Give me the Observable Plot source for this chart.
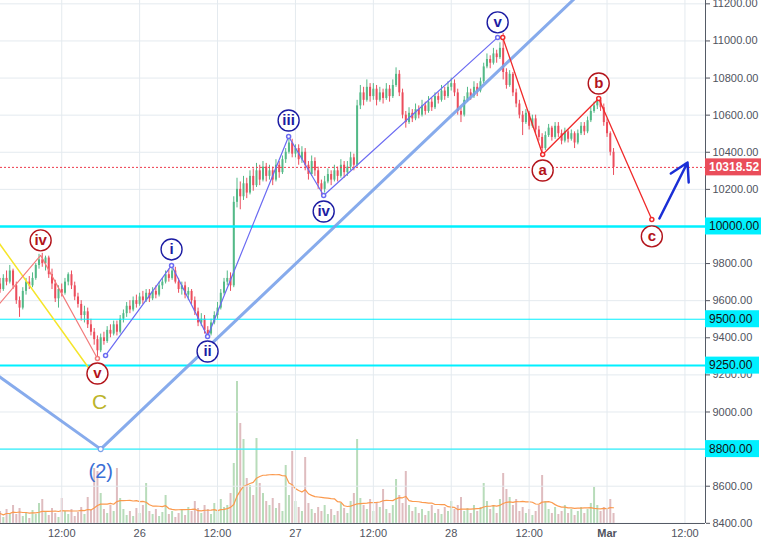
<!DOCTYPE html>
<html><head><meta charset="utf-8">
<script src="https://cdn.jsdelivr.net/npm/d3@7"></script>
<script src="https://cdn.jsdelivr.net/npm/@observablehq/plot@0.6"></script>
<style>
html,body{margin:0;padding:0;background:#fff;}
#chart{position:relative;width:761px;height:542px;overflow:hidden;font-family:"Liberation Sans",Arial,sans-serif;}
#chart svg{position:absolute;left:0;top:0;}
</style></head><body><div id="chart"></div>
<script>
// 30-minute BTC candles [open, high, low, close], first candle 2018-02-25 02:00 UTC
const ohlc = [
[9650,9710,9630,9690],[9690,9720,9640,9660],[9660,9740,9650,9720],[9720,9760,9680,9700],[9700,9790,9690,9760],
[9760,9770,9660,9680],[9680,9700,9580,9600],[9600,9620,9510,9560],[9560,9670,9550,9650],[9650,9720,9630,9700],
[9700,9730,9660,9680],[9680,9750,9670,9720],[9720,9800,9710,9790],[9790,9850,9770,9820],[9820,9855,9780,9800],
[9800,9840,9760,9830],[9830,9840,9720,9740],[9740,9770,9660,9690],[9690,9710,9590,9610],[9610,9680,9560,9660],
[9660,9690,9620,9640],[9640,9720,9630,9700],[9700,9750,9680,9740],[9740,9760,9660,9680],[9680,9700,9600,9620],
[9620,9640,9560,9580],[9580,9600,9490,9520],[9520,9570,9480,9540],[9540,9560,9450,9470],[9470,9500,9410,9430],
[9430,9450,9360,9390],[9390,9410,9295,9330],[9330,9420,9320,9400],[9400,9430,9360,9380],[9380,9460,9370,9440],
[9440,9470,9400,9420],[9420,9490,9410,9470],[9470,9490,9410,9430],[9430,9520,9420,9500],[9500,9550,9480,9530],
[9530,9590,9510,9570],[9570,9600,9530,9550],[9550,9620,9540,9600],[9600,9630,9560,9580],[9580,9640,9570,9620],
[9620,9650,9580,9600],[9600,9660,9590,9640],[9640,9660,9590,9610],[9610,9670,9600,9650],[9650,9680,9610,9630],
[9630,9700,9620,9680],[9680,9720,9660,9700],[9700,9760,9690,9740],[9740,9770,9700,9720],[9720,9795,9710,9760],
[9760,9780,9690,9700],[9700,9720,9640,9660],[9660,9700,9630,9680],[9680,9700,9610,9630],[9630,9670,9600,9650],
[9650,9660,9580,9600],[9600,9620,9520,9540],[9540,9560,9460,9480],[9480,9530,9460,9500],[9500,9520,9420,9440],
[9440,9460,9400,9420],[9420,9500,9410,9480],[9480,9540,9470,9520],[9520,9590,9500,9560],[9560,9660,9550,9640],
[9640,9720,9630,9700],[9700,9760,9680,9720],[9720,9750,9650,9680],[9680,10160,9670,10130],[10130,10260,10100,10200],
[10200,10240,10090,10160],[10160,10270,10140,10230],[10230,10260,10150,10180],[10180,10300,10170,10270],[10270,10310,10190,10220],
[10220,10340,10210,10300],[10300,10330,10220,10250],[10250,10350,10240,10320],[10320,10340,10240,10270],[10270,10330,10250,10300],
[10300,10320,10220,10250],[10250,10360,10240,10330],[10330,10350,10260,10290],[10290,10380,10280,10360],[10360,10420,10340,10400],
[10400,10485,10390,10450],[10450,10470,10370,10390],[10390,10440,10370,10420],[10420,10440,10330,10360],[10360,10430,10340,10400],
[10400,10420,10300,10330],[10330,10350,10250,10280],[10280,10380,10270,10350],[10350,10370,10270,10300],[10300,10320,10200,10230],
[10230,10250,10165,10200],[10200,10270,10180,10240],[10240,10310,10230,10280],[10280,10300,10220,10250],[10250,10330,10240,10300],
[10300,10320,10240,10270],[10270,10360,10260,10330],[10330,10350,10260,10290],[10290,10350,10270,10320],[10320,10400,10300,10370],
[10370,10390,10300,10330],[10330,10680,10320,10650],[10650,10760,10630,10720],[10720,10750,10650,10680],[10680,10790,10670,10750],
[10750,10770,10670,10700],[10700,10770,10680,10740],[10740,10760,10650,10680],[10680,10750,10670,10720],[10720,10740,10660,10690],
[10690,10770,10680,10740],[10740,10760,10670,10700],[10700,10790,10690,10760],[10760,10855,10750,10820],[10820,10840,10700,10720],
[10720,10740,10580,10600],[10600,10620,10530,10560],[10560,10640,10550,10610],[10610,10630,10560,10580],[10580,10660,10570,10630],
[10630,10650,10580,10600],[10600,10680,10590,10650],[10650,10670,10600,10620],[10620,10700,10610,10670],[10670,10690,10620,10640],
[10640,10720,10630,10700],[10700,10720,10660,10680],[10680,10760,10670,10730],[10730,10750,10680,10700],[10700,10780,10690,10750],
[10750,10800,10730,10770],[10770,10790,10700,10720],[10720,10740,10600,10620],[10620,10640,10560,10600],[10600,10700,10590,10680],
[10680,10750,10670,10720],[10720,10740,10680,10700],[10700,10780,10690,10750],[10750,10770,10700,10730],[10730,10800,10720,10780],
[10780,10880,10770,10860],[10860,10930,10850,10900],[10900,10920,10850,10880],[10880,10960,10870,10930],[10930,10950,10880,10910],
[10910,10990,10900,10960],[10960,11040,10790,10830],[10830,10850,10740,10760],[10760,10840,10750,10820],[10820,10830,10700,10720],
[10720,10740,10640,10660],[10660,10680,10580,10600],[10600,10620,10490,10560],[10560,10630,10550,10610],[10610,10620,10520,10540],
[10540,10600,10530,10580],[10580,10600,10500,10520],[10520,10540,10460,10480],[10480,10500,10385,10420],[10420,10510,10410,10490],
[10490,10550,10480,10530],[10530,10540,10460,10480],[10480,10560,10470,10540],[10540,10560,10480,10500],[10500,10520,10440,10460],
[10460,10530,10450,10510],[10510,10520,10450,10470],[10470,10520,10460,10500],[10500,10510,10420,10450],[10450,10520,10440,10500],
[10500,10560,10490,10540],[10540,10560,10490,10510],[10510,10590,10500,10570],[10570,10640,10560,10620],[10620,10670,10610,10650],
[10650,10695,10630,10680],[10680,10690,10620,10640],[10640,10660,10540,10560],[10560,10580,10480,10500],[10500,10510,10380,10400],
[10400,10420,10275,10318.52]
];
// volume per candle (x10 BTC)
const volume = [
8,12,6,14,10,18,9,15,7,11,5,13,9,20,24,12,8,15,10,6,
25,12,9,14,7,11,16,9,26,13,55,52,30,14,10,18,12,55,25,14,
8,12,7,15,10,18,40,12,9,14,7,11,28,9,12,6,10,14,8,16,
12,22,15,10,18,14,9,20,12,24,16,18,30,60,142,100,84,45,38,28,
85,40,30,22,18,25,15,20,12,58,28,72,22,16,12,66,20,14,10,16,
12,18,9,14,8,12,20,15,10,22,30,84,25,18,14,24,12,20,16,34,
14,10,18,44,28,20,52,18,12,16,10,14,8,12,18,10,14,9,16,12,
22,14,18,26,12,15,10,18,12,16,40,22,14,18,10,24,50,34,26,18,
24,12,16,10,14,8,12,18,48,22,14,10,16,9,12,18,10,14,8,12,
16,10,14,20,36,18,12,16,14,24,10
];
const firstCandle = "2018-02-25T02:00Z";
const xTickDates = ["2018-02-25T12:00Z","2018-02-26T00:00Z","2018-02-26T12:00Z","2018-02-27T00:00Z","2018-02-27T12:00Z","2018-02-28T00:00Z","2018-02-28T12:00Z","2018-03-01T00:00Z","2018-03-01T12:00Z"];
const priceTicks = [8400,8600,8800,9000,9200,9400,9600,9800,10000,10200,10400,10600,10800,11000,11200];
const levels = [10000, 9500, 9250, 8800];
const levelWeights = [2.5, 1, 2, 1];
const lastPrice = 10318.52;
// drawings
const trendV = [["2018-02-25T00:00Z",9250],["2018-02-25T18:00Z",8800],["2018-03-01T00:00Z",11395]];
const waveCLine = [["2018-02-25T00:00Z",10025],["2018-02-25T17:50Z",9155]];
const wave45 = [["2018-02-25T00:00Z",9485],["2018-02-25T08:45Z",9844],["2018-02-25T17:30Z",9288]];
const impulse = [["2018-02-25T18:45Z",9305],["2018-02-26T04:55Z",9790],["2018-02-26T10:28Z",9407],["2018-02-26T22:57Z",10485],["2018-02-27T04:21Z",10167],["2018-02-28T07:09Z",11019]];
const correction = [["2018-02-28T07:56Z",11019],["2018-02-28T14:05Z",10388],["2018-02-28T22:43Z",10690],["2018-03-01T06:54Z",10038]];
const projection = [["2018-03-01T08:04Z",10043],["2018-03-01T12:24Z",10345]];
const impulseLabels = ["i","ii","iii","iv","v"];
const impulseDy = [-16,15,-16,16,-15];
const redLabels = ["iv","v"];
const redDy = [-15,15];
const abcLabels = ["a","b","c"];
const abcDy = [16,-15,17];

const W = 761, H = 542, MR = 56, MB = 19;
const xDomain = [new Date("2018-02-25T02:34Z"), new Date("2018-03-01T15:10Z")];
const yDomain = [8399, 11218];
const green = "#53b987", red = "#eb4d5c", cyan = "#00f0ff";
const font = "'Liberation Sans', Arial, sans-serif";

const start = new Date(firstCandle);
const times = d3.utcMinute.every(30).range(start, d3.utcMinute.offset(start, 30 * ohlc.length));
const candles = ohlc.map(([o,h,l,c], i) => ({t: times[i], o, h, l, c, col: c >= o ? green : red}));
const vols = volume.map((v, i) => ({t: times[i], v, col: candles[i].col === green ? "#b8dcba" : "#dfbcbf"}));
const P = d => ({t: new Date(d[0]), p: d[1]});

const volPlot = Plot.plot({
  width: W, height: H, marginLeft: 0, marginRight: MR, marginTop: 0, marginBottom: MB,
  style: {background: "white"},
  x: {type: "utc", domain: xDomain, axis: null},
  y: {domain: [0, 523], axis: null},
  color: {type: "identity"},
  marks: [
    Plot.ruleX(vols, {x: "t", y: "v", stroke: "col", strokeWidth: 2}),
    Plot.lineY(vols, Plot.windowY({k: 16, anchor: "end"}, {x: "t", y: "v", stroke: "#fb9a4e", strokeWidth: 1.2}))
  ]
});

const pts = a => a.map(P);
const imp = pts(impulse), cor = pts(correction), w45 = pts(wave45);
const lab = (arr, names, dys, col) => names.map((n, i) => ({...arr[i + 1], n, dy: dys[i], col}));
const circles = [
  ...lab(w45, redLabels, redDy, "#b3141b"),
  ...lab(imp, impulseLabels, impulseDy, "#1c1ca3"),
  ...lab(cor, abcLabels, abcDy, "#b3141b")
];
const circleMarks = circles.flatMap(d => [
  Plot.dot([d], {x: "t", y: "p", dy: d.dy, r: 10.5, fill: "white", stroke: d.col, strokeWidth: 1.4}),
  Plot.text([d], {x: "t", y: "p", dy: d.dy, text: "n", fill: d.col, fontSize: 15, fontWeight: "bold"})
]);

const pricePlot = Plot.plot({
  width: W, height: H, marginLeft: 0, marginRight: MR, marginTop: 0, marginBottom: MB,
  style: {background: "transparent", fontFamily: font, fontSize: "11px", overflow: "visible"},
  x: {type: "utc", domain: xDomain},
  y: {domain: yDomain},
  color: {type: "identity"},
  marks: [
    Plot.ruleX(xTickDates.map(d => new Date(d)), {stroke: "#e4eaef"}),
    Plot.ruleY(priceTicks, {stroke: "#e4eaef"}),
    Plot.ruleX(candles, {x: "t", y1: "l", y2: "h", stroke: "col", strokeWidth: 1}),
    Plot.ruleX(candles, {x: "t", y1: "o", y2: "c", stroke: "col", strokeWidth: 2}),
    Plot.ruleY(levels, {y: d => d, stroke: cyan, strokeWidth: (d, i) => levelWeights[i]}),
    Plot.ruleY([lastPrice], {stroke: "#ee3a4a", strokeDasharray: "2,2", strokeWidth: 1}),
    Plot.line(pts(trendV), {x: "t", y: "p", stroke: "#7aa2ea", strokeWidth: 3, strokeOpacity: 0.9, clip: true}),
    Plot.dot([P(trendV[1])], {x: "t", y: "p", r: 2.5, fill: "white", stroke: "#7aa2ea", strokeWidth: 1.2}),
    Plot.line(pts(waveCLine), {x: "t", y: "p", stroke: "#f5e52b", strokeWidth: 1.5, clip: true}),
    Plot.line(w45, {x: "t", y: "p", stroke: "#f27c7c", strokeWidth: 1.2, clip: true}),
    Plot.dot(w45.slice(2), {x: "t", y: "p", r: 2, fill: "white", stroke: "#f27c7c"}),
    Plot.line(imp, {x: "t", y: "p", stroke: "#6b6bf2", strokeWidth: 1.2, clip: true}),
    Plot.dot(imp, {x: "t", y: "p", r: 2, fill: "white", stroke: "#6b6bf2"}),
    Plot.line(cor, {x: "t", y: "p", stroke: "#f02a2a", strokeWidth: 1.3, clip: true}),
    Plot.dot(cor, {x: "t", y: "p", r: 2, fill: "white", stroke: "#f02a2a"}),
    Plot.arrow([projection], {x1: d => new Date(d[0][0]), y1: d => d[0][1], x2: d => new Date(d[1][0]), y2: d => d[1][1], stroke: "#1a2ed6", strokeWidth: 2.5, headLength: 12, bend: 0}),
    Plot.text([P(waveCLine[1])], {x: "t", y: "p", text: () => "C", dy: 19, fill: "#bcb42a", fontSize: 21}),
    Plot.text([P(trendV[1])], {x: "t", y: "p", text: () => "(2)", dy: 22, fill: "#3a6fd6", fontSize: 20}),
    ...circleMarks,
    Plot.ruleX([xDomain[1]], {stroke: "#555b66", strokeWidth: 1}),
    Plot.ruleY([yDomain[0]], {stroke: "#555b66", strokeWidth: 1.2}),
    Plot.axisY(priceTicks.filter(t => !levels.includes(t)), {anchor: "right", tickSize: 4, tickPadding: 3, tickFormat: d => d.toFixed(2), label: null, color: "#50535e", fontSize: 11}),
    Plot.axisX(xTickDates.map(d => new Date(d)), {anchor: "bottom", tickSize: 0, tickPadding: 6, label: null, color: "#50535e", fontSize: 11,
      tickFormat: d => d.getUTCHours() === 12 ? "12:00" : (d.getUTCDate() === 1 ? "Mar" : String(d.getUTCDate()))})
  ]
});

const chart = document.getElementById("chart");
chart.appendChild(volPlot);
chart.appendChild(pricePlot);

// price labels on the right axis
const ys = pricePlot.scale("y");
const svg = d3.select(pricePlot);
svg.selectAll("text").filter(function(){ return this.textContent === "Mar"; }).attr("font-weight", "bold");
const boxes = levels.map(v => ({v, fill: cyan, color: "#111", w: v >= 10000 ? 57 : 54, weight: "normal"}))
  .concat([{v: lastPrice, fill: "#ea4d5a", color: "white", w: 57, weight: "bold"}]);
const g = svg.append("g").attr("text-anchor", "start");
for (const b of boxes) {
  const y = ys.apply(b.v);
  g.append("rect").attr("x", W - MR).attr("y", y - 8.5).attr("width", b.w).attr("height", 17).attr("fill", b.fill);
  g.append("text").attr("x", W - MR + 4).attr("y", y).attr("dy", "0.35em").attr("fill", b.color)
    .attr("text-anchor", "start").attr("font-family", font).attr("font-size", 12).attr("font-weight", b.weight).text(b.v.toFixed(2));
}
</script></body></html>
